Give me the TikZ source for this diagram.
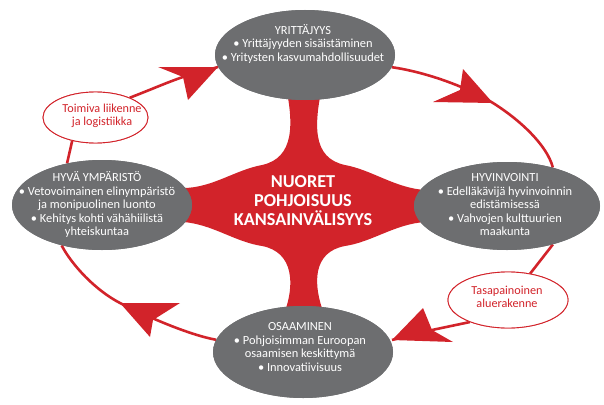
\documentclass[tikz,border=0pt]{standalone}
\usepackage{fontspec}
\setmainfont{Carlito}
\usetikzlibrary{shapes.geometric}
\definecolor{ggray}{RGB}{109,110,112}
\definecolor{rred}{RGB}{210,35,42}
\begin{document}
\begin{tikzpicture}[x=1pt,y=-1pt,
  grayell/.style={ellipse, fill=ggray, inner sep=0pt},
  smallell/.style={ellipse, draw=rred, line width=0.9pt, fill=white, inner sep=0pt},
  graytxt/.style={text=white, align=center, font=\fontsize{12.4}{13.5}\selectfont, inner sep=0pt},
  redtxt/.style={text=rred, align=center, font=\fontsize{12.2}{13.5}\selectfont, inner sep=0pt},
  hubtxt/.style={text=white, align=center, font=\bfseries\fontsize{18.2}{19}\selectfont, inner sep=0pt},
  loopline/.style={draw=rred, line width=2.6pt},
  headfill/.style={fill=rred}
]
\useasboundingbox (0,0) rectangle (604,404);

% central red hub shape
\fill[rred] (324,78) .. controls (313,125) and (312,158) .. (345,165)
 .. controls (372,170) and (395,188) .. (425,190)
 -- (425,222)
 .. controls (395,224) and (372,242) .. (345,246)
 .. controls (312,252) and (313,285) .. (324,314)
 -- (284,314)
 .. controls (295,285) and (294,252) .. (262,246)
 .. controls (235,242) and (212,224) .. (183,222)
 -- (183,188)
 .. controls (212,188) and (235,170) .. (262,165)
 .. controls (294,158) and (295,125) .. (284,78)
 -- cycle;

% ellipse nodes (shapes only, drawn again on top of lines)
\path
  node[grayell, minimum width=180pt, minimum height=90pt] (yr) at (305,55) {}
  node[grayell, minimum width=180pt, minimum height=90pt] (hy) at (102,205) {}
  node[grayell, minimum width=186pt, minimum height=88pt] (hv) at (507,206) {}
  node[grayell, minimum width=180pt, minimum height=92pt] (os) at (303,352) {}
  node[smallell, minimum width=105pt, minimum height=51pt] (toi) at (95.5,117.5) {}
  node[smallell, minimum width=120pt, minimum height=56pt] (tas) at (508,300) {};

% arrow geometry
\coordinate (t1) at (218,67);  \coordinate (n1) at (183,77);
\coordinate (t2) at (493,103); \coordinate (n2) at (460,90);
\coordinate (t3) at (392,340); \coordinate (n3) at (432,330);
\coordinate (t4) at (120,303); \coordinate (n4) at (153,320);

% loop lines
\draw[loopline] (toi.30) .. controls (150,90) and (168,82) .. (n1) -- (t1);
\draw[loopline] (yr.-8) .. controls (425,72) and (465,86) .. (t2)
   .. controls (520,120) and (547,145) .. (hv.40);
\draw[loopline] (hv.-40) -- (tas.50);
\draw[loopline] (tas.210) -- (n3) -- (t3);
\draw[loopline] (os.172) .. controls (190,335) and (150,318) .. (t4)
   .. controls (95,290) and (72,265) .. (hy.225);
\draw[loopline] (hy.130) -- (toi.225);

% arrowheads
\fill[headfill] (t1) -- (158,67) -- (n1) -- (188,100) -- cycle;
\fill[headfill] (t2) -- (463,69) -- (n2) -- (433,102) -- cycle;
\fill[headfill] (t3) -- (423,308) -- (n3) -- (453,342) -- cycle;
\fill[headfill] (t4) -- (180,303) -- (n4) -- (150,337) -- cycle;

% redraw ellipses on top
\path
  node[grayell, minimum width=180pt, minimum height=90pt] (yrb) at (305,55) {}
  node[grayell, minimum width=180pt, minimum height=90pt] (hyb) at (102,205) {}
  node[grayell, minimum width=186pt, minimum height=88pt] (hvb) at (507,206) {}
  node[grayell, minimum width=180pt, minimum height=92pt] (osb) at (303,352) {}
  node[smallell, minimum width=105pt, minimum height=51pt] (toib) at (95.5,117.5) {}
  node[smallell, minimum width=120pt, minimum height=56pt] (tasb) at (508,300) {};

% texts
\node[graytxt] (yrt) at (303,44) {YRITTÄJYYS\\• Yrittäjyyden sisäistäminen\\• Yritysten kasvumahdollisuudet};
\node[graytxt] (hyt) at (97,205) {HYVÄ YMPÄRISTÖ\\• Vetovoimainen elinympäristö\\ja monipuolinen luonto\\• Kehitys kohti vähähiilistä\\yhteiskuntaa};
\node[graytxt] (hvt) at (505,205) {HYVINVOINTI\\• Edelläkävijä hyvinvoinnin\\edistämisessä\\• Vahvojen kulttuurien\\maakunta};
\node[graytxt] (ost) at (300,347) {OSAAMINEN\\• Pohjoisimman Euroopan\\osaamisen keskittymä\\• Innovatiivisuus};
\node[hubtxt] (hubt) at (303,201) {NUORET\\POHJOISUUS\\KANSAINVÄLISYYS};
\node[redtxt] (toit) at (102,116) {Toimiva liikenne\\ja logistiikka};
\node[redtxt] (tast) at (507,297) {Tasapainoinen\\aluerakenne};
\end{tikzpicture}
\end{document}
